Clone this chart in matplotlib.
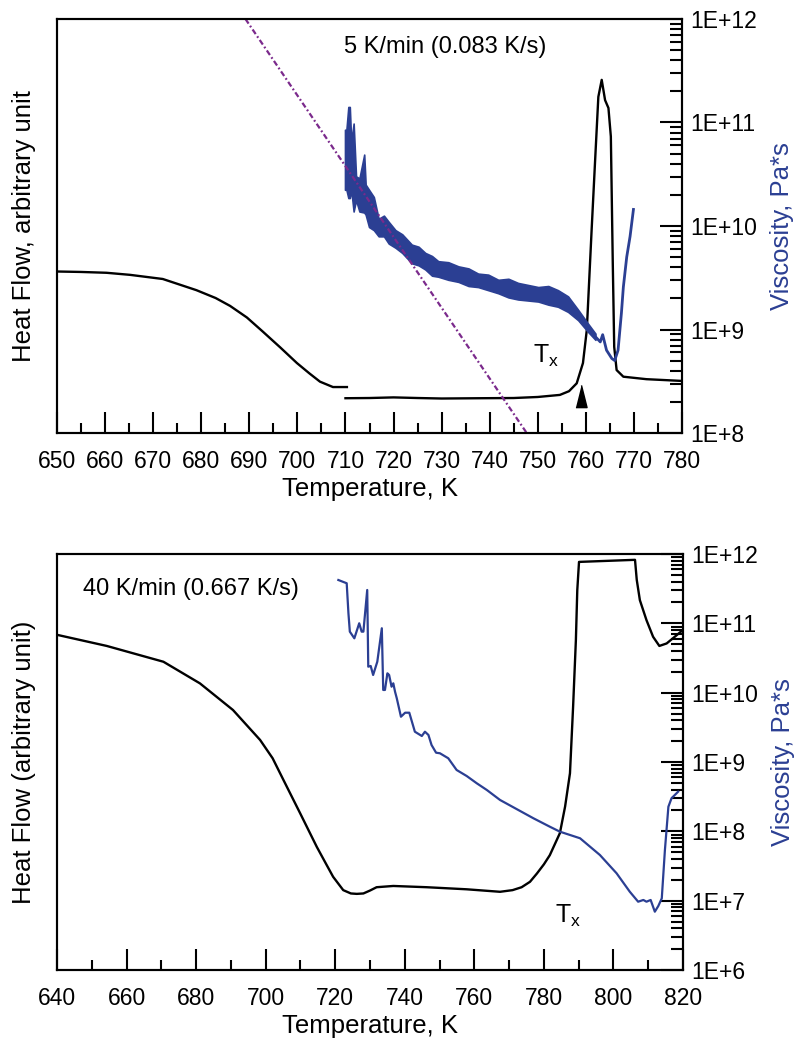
import numpy as np
import matplotlib
matplotlib.use("Agg")
import matplotlib.pyplot as plt
from matplotlib.ticker import MultipleLocator, LogLocator, FuncFormatter, NullFormatter

plt.rcParams["font.family"] = ["Liberation Sans", "DejaVu Sans"]
plt.rcParams["mathtext.fontset"] = "custom"
plt.rcParams["mathtext.rm"] = "Liberation Sans"

BLUE = "#2b3f93"
PURPLE = "#7b2a8c"

# ---------------- 5 K/min run ----------------
# DSC heat flow (arbitrary units), glass-transition branch
hf5_glass_T = [650.4, 655.0, 660.3, 665.2, 672.0, 679.0, 683.0, 686.0, 689.5, 692.8, 696.5,
               699.9, 702.5, 704.7, 707.4, 710.3]
hf5_glass = [39.0, 38.9, 38.7, 38.2, 37.2, 34.5, 32.6, 30.7, 27.9, 24.5, 20.6,
             16.9, 14.4, 12.4, 11.1, 11.1]
# DSC heat flow, crystallization branch
hf5_cryst_T = [710.0, 715.0, 720.0, 725.0, 730.0, 738.0, 745.0, 750.0, 754.6, 756.5, 758.1,
               759.4, 760.2, 761.2, 761.9, 762.6, 763.3, 764.0, 764.7, 765.2, 765.6, 765.9,
               766.4, 767.8, 772.6, 779.6]
hf5_cryst = [8.4, 8.45, 8.6, 8.45, 8.33, 8.4, 8.45, 8.7, 9.2, 10.1, 12.0,
             16.9, 24.9, 49.0, 65.2, 81.2, 85.3, 80.4, 78.5, 71.6, 41.1, 20.8,
             15.2, 13.6, 13.0, 12.6]
# viscosity scatter band (log10 Pa*s): upper / lower envelope
visc5_band_T = [709.9, 710.2, 710.6, 710.9, 711.2, 711.7, 712.2, 712.9, 713.9, 714.2, 714.9,
                715.9, 716.9, 718.0, 719.0, 720.4, 721.8, 723.8, 725.2, 726.6, 728.0, 729.3,
                731.4, 733.5, 735.6, 737.6, 739.7, 741.8, 743.9, 745.9, 748.0, 750.1, 752.2,
                754.2, 756.3, 758.4, 760.4, 762.0]
visc5_band_hi = [10.93, 10.93, 11.15, 11.15, 10.81, 10.99, 10.48, 10.46, 10.69, 10.40, 10.35,
                 10.28, 10.07, 10.10, 10.04, 9.96, 9.92, 9.82, 9.80, 9.74, 9.71, 9.66,
                 9.65, 9.61, 9.59, 9.54, 9.53, 9.48, 9.49, 9.45, 9.43, 9.41, 9.42,
                 9.38, 9.32, 9.19, 9.06, 8.96]
visc5_band_lo = [10.35, 10.35, 10.27, 10.27, 10.35, 10.14, 10.25, 10.14, 10.13, 10.11, 9.99,
                 9.96, 9.90, 9.90, 9.83, 9.79, 9.74, 9.64, 9.62, 9.58, 9.52, 9.51,
                 9.48, 9.46, 9.42, 9.41, 9.38, 9.35, 9.31, 9.29, 9.28, 9.27, 9.24,
                 9.22, 9.17, 9.09, 8.98, 8.90]
# viscosity after onset of crystallization (log10 Pa*s)
visc5_tail_T = [762.0, 763.0, 763.5, 764.3, 765.4, 766.0, 766.7, 767.4, 767.8, 768.5, 769.2, 769.9]
visc5_tail = [8.93, 8.88, 8.95, 8.80, 8.72, 8.70, 8.80, 9.16, 9.41, 9.70, 9.90, 10.16]
# extrapolated viscosity of the glass
fit5_T = [689.2, 747.7]
fit5 = [12.0, 8.0]
tx5 = 759.0

# ---------------- 40 K/min run ----------------
hf40_T = [640.4, 654.3, 670.6, 681.1, 690.6, 698.4, 702.0, 705.1, 709.9, 714.7, 717.5, 719.4,
          722.3, 724.5, 726.2, 728.1, 730.0, 731.9, 736.7, 746.3, 757.8, 767.4, 771.0, 773.6,
          776.0, 778.0, 780.0, 781.7, 784.6, 786.1, 787.5, 788.4, 789.2, 789.6, 790.1, 806.2,
          806.7, 807.6, 809.5, 811.4, 813.2, 815.3, 818.2, 819.9]
hf40 = [80.5, 77.9, 74.1, 68.9, 62.5, 55.3, 50.9, 45.7, 37.7, 29.6, 25.3, 22.4,
        19.2, 18.4, 18.3, 18.4, 19.1, 19.9, 20.2, 19.9, 19.4, 18.8, 19.2, 19.9,
        21.2, 23.2, 25.4, 27.6, 32.9, 39.3, 47.3, 63.3, 79.3, 91.3, 98.1, 98.6,
        93.8, 88.9, 84.1, 80.1, 77.9, 78.5, 80.5, 81.7]
visc40_T = [720.9, 723.3, 723.8, 724.2, 725.5, 726.9, 727.6, 728.1, 729.2, 729.5, 730.2,
            730.9, 732.1, 733.4, 733.8, 734.3, 735.0, 735.5, 736.2, 736.7, 737.2, 737.7,
            738.9, 740.1, 741.3, 742.9, 744.9, 745.8, 746.8, 747.7, 749.0, 750.1, 752.5,
            754.9, 757.8, 760.7, 763.6, 767.4, 777.0, 781.7, 784.6, 790.4, 796.1, 800.9,
            804.7, 807.1, 808.6, 809.5, 810.7, 811.9, 812.9, 813.9, 814.8, 815.8, 816.7,
            818.6]
visc40 = [11.625, 11.578, 11.145, 10.880, 10.784, 11.001, 10.880, 10.880, 11.481, 10.375, 10.385,
          10.255, 10.447, 10.929, 10.039, 10.039, 10.279, 10.255, 10.086, 10.135, 10.014, 9.919,
          9.653, 9.711, 9.711, 9.437, 9.375, 9.437, 9.390, 9.245, 9.134, 9.126, 9.054,
          8.885, 8.798, 8.693, 8.596, 8.452, 8.188, 8.067, 7.995, 7.900, 7.659, 7.395,
          7.129, 6.985, 7.010, 6.985, 7.010, 6.841, 6.923, 7.034, 7.731, 8.355, 8.477,
          8.572]

FS_TICK = 16.5
FS_LABEL = 18.5
FS_NOTE = 17


def pow10(v):
    return 10.0 ** np.asarray(v)


def style_axes(ax, axr, xmin, xmax, major, minor, vmin, vmax):
    ax.set_xlim(xmin, xmax)
    ax.set_ylim(0, 100)
    ax.xaxis.set_major_locator(MultipleLocator(major))
    ax.xaxis.set_minor_locator(MultipleLocator(minor))
    ax.tick_params(axis="x", which="both", direction="in", top=False, width=1.5,
                   labelsize=FS_TICK, pad=12)
    ax.tick_params(axis="x", which="major", length=15)
    ax.tick_params(axis="x", which="minor", length=7)
    ax.tick_params(axis="y", which="both", left=False, labelleft=False)
    axr.set_yscale("log")
    axr.set_ylim(vmin, vmax)
    axr.yaxis.set_major_locator(LogLocator(base=10, numticks=20))
    axr.yaxis.set_minor_locator(LogLocator(base=10, subs=np.arange(2, 10), numticks=20))
    axr.yaxis.set_major_formatter(FuncFormatter(lambda v, p: "1E+%d" % int(round(np.log10(v)))))
    axr.yaxis.set_minor_formatter(NullFormatter())
    axr.tick_params(axis="y", which="both", direction="in", width=1.5, labelsize=FS_TICK, pad=6)
    axr.tick_params(axis="y", which="major", length=16)
    axr.tick_params(axis="y", which="minor", length=8.5)
    for a in (ax, axr):
        for s in a.spines.values():
            s.set_linewidth(1.5)
        a.xaxis.offsetText.set_visible(False)
        a.yaxis.offsetText.set_visible(False)
    ax.set_xlabel("Temperature, K", fontsize=FS_LABEL, labelpad=3)
    axr.set_ylabel("Viscosity, Pa*s", fontsize=FS_LABEL, color=BLUE, labelpad=9)


fig = plt.figure(figsize=(7.97, 10.4), dpi=100)

# ---- top panel ----
ax1 = fig.add_axes([57 / 797, 1 - 433 / 1040, 625 / 797, 414 / 1040])
ax1r = ax1.twinx()
style_axes(ax1, ax1r, 650, 780, 10, 5, 1e8, 1e12)
ax1.set_ylabel("Heat Flow, arbitrary unit", fontsize=FS_LABEL, labelpad=15)

ax1.plot(hf5_glass_T, hf5_glass, color="black", lw=1.7)
ax1.plot(hf5_cryst_T, hf5_cryst, color="black", lw=1.7)
ax1.plot([tx5], [9.0], linestyle="none", color="black",
         marker=[(-0.5, -1), (0.5, -1), (0, 1)], markersize=16)
ax1.text(0.7616, 0.169, r"T$_\mathregular{x}$", transform=ax1.transAxes,
         fontsize=FS_NOTE + 1, ha="left", va="baseline")
ax1.text(0.621, 0.932, "5 K/min (0.083 K/s)", transform=ax1.transAxes,
         fontsize=FS_NOTE, ha="center", va="center")

ax1r.plot(fit5_T, pow10(fit5), color=PURPLE, lw=1.6, linestyle=(0, (2.5, 1.2, 0.8, 1.2)))
ax1r.fill_between(visc5_band_T, pow10(visc5_band_lo), pow10(visc5_band_hi),
                  color=BLUE, lw=1.2, edgecolor=BLUE)
ax1r.plot(visc5_tail_T, pow10(visc5_tail), color=BLUE, lw=2.0)

# ---- bottom panel ----
ax2 = fig.add_axes([57 / 797, 1 - 970 / 1040, 626 / 797, 416 / 1040])
ax2r = ax2.twinx()
style_axes(ax2, ax2r, 640, 820, 20, 10, 1e6, 1e12)
ax2.set_ylabel("Heat Flow (arbitrary unit)", fontsize=FS_LABEL, labelpad=15)

ax2.plot(hf40_T, hf40, color="black", lw=1.7)
ax2.text(0.0415, 0.901, "40 K/min (0.667 K/s)", transform=ax2.transAxes,
         fontsize=FS_NOTE, ha="left", va="baseline")
ax2.text(0.7955, 0.113, r"T$_\mathregular{x}$", transform=ax2.transAxes,
         fontsize=FS_NOTE + 1, ha="left", va="baseline")
ax2r.plot(visc40_T, pow10(visc40), color=BLUE, lw=1.6)

fig.savefig("out.png", dpi=100)
